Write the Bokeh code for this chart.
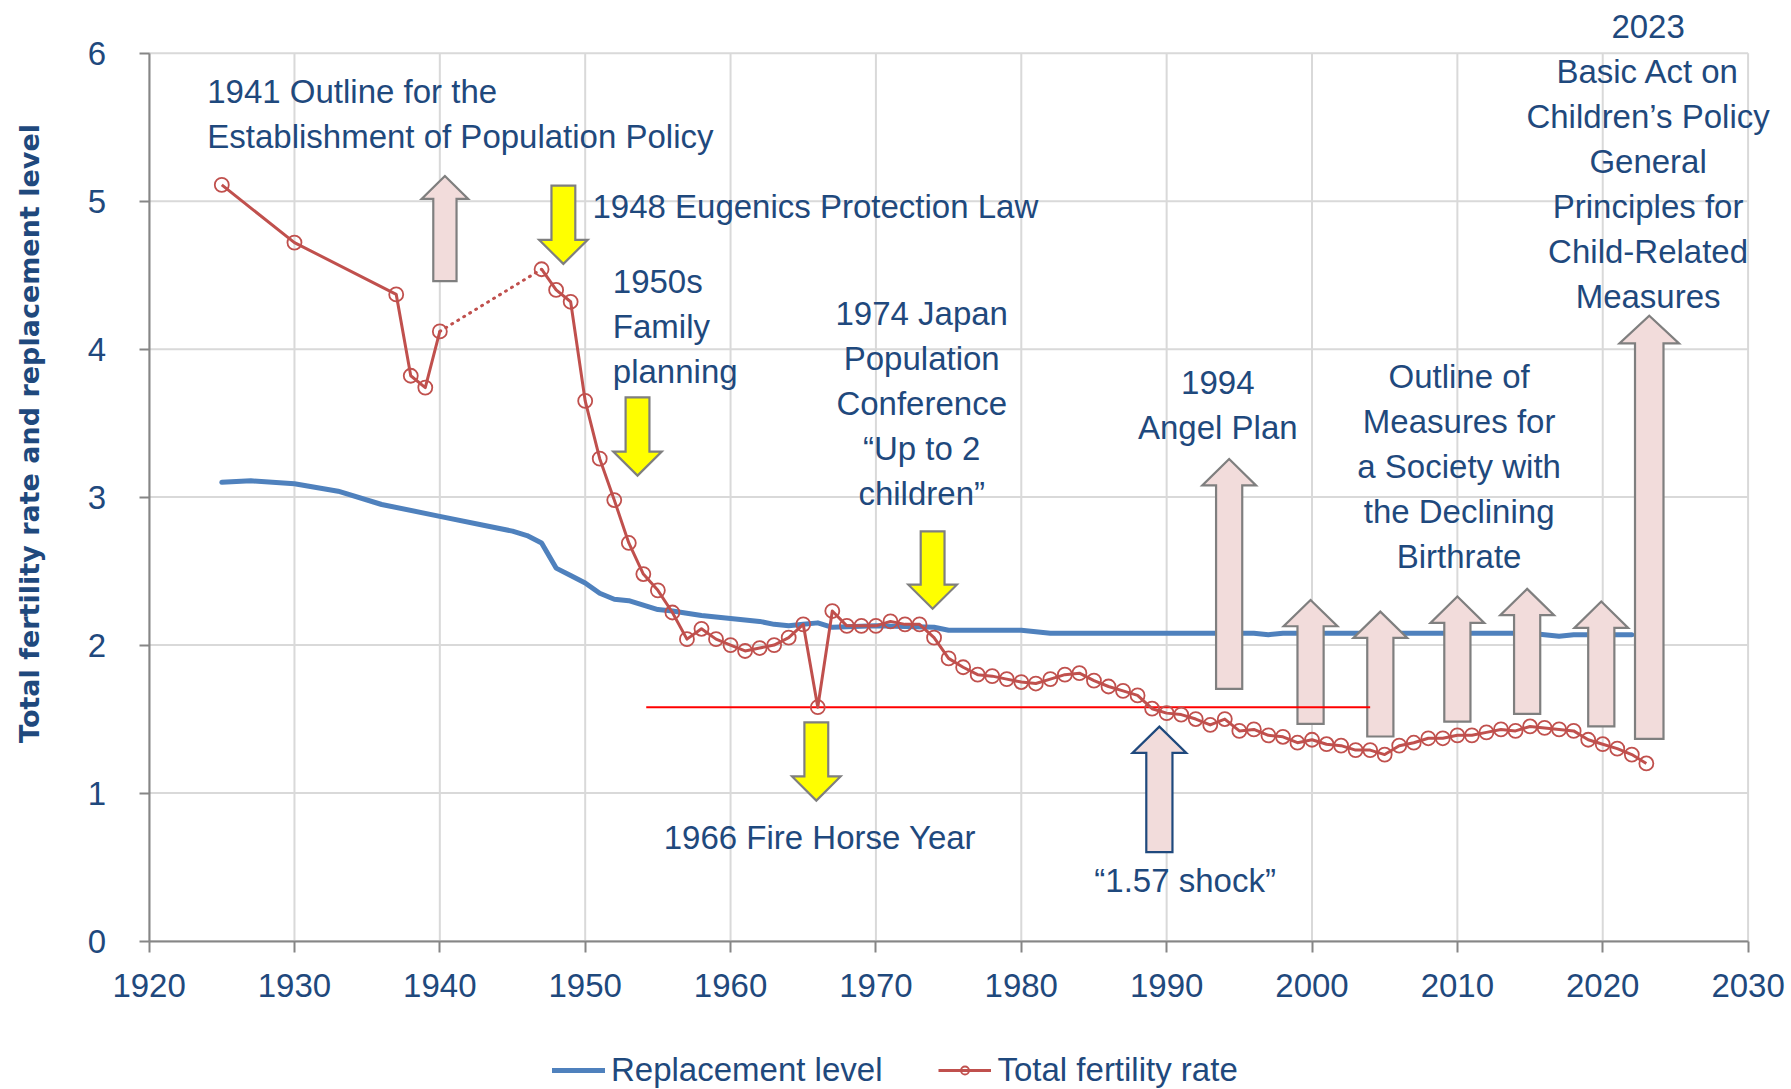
import math
from bokeh.plotting import figure
from bokeh.models import Range1d, FixedTicker, Label, Legend, LegendItem
from bokeh.embed import file_html
from bokeh.resources import INLINE

# ---------------- data ----------------
tfr_years = [1925, 1930, 1937, 1938, 1939, 1940,
             1947, 1948, 1949, 1950, 1951, 1952, 1953, 1954, 1955, 1956, 1957, 1958, 1959,
             1960, 1961, 1962, 1963, 1964, 1965, 1966, 1967, 1968, 1969,
             1970, 1971, 1972, 1973, 1974, 1975, 1976, 1977, 1978, 1979,
             1980, 1981, 1982, 1983, 1984, 1985, 1986, 1987, 1988, 1989,
             1990, 1991, 1992, 1993, 1994, 1995, 1996, 1997, 1998, 1999,
             2000, 2001, 2002, 2003, 2004, 2005, 2006, 2007, 2008, 2009,
             2010, 2011, 2012, 2013, 2014, 2015, 2016, 2017, 2018, 2019,
             2020, 2021, 2022, 2023]
tfr_values = [5.11, 4.72, 4.37, 3.82, 3.74, 4.12,
              4.54, 4.40, 4.32, 3.65, 3.26, 2.98, 2.69, 2.48, 2.37, 2.22, 2.04, 2.11, 2.04,
              2.00, 1.96, 1.98, 2.00, 2.05, 2.14, 1.58, 2.23, 2.13, 2.13,
              2.13, 2.16, 2.14, 2.14, 2.05, 1.91, 1.85, 1.80, 1.79, 1.77,
              1.75, 1.74, 1.77, 1.80, 1.81, 1.76, 1.72, 1.69, 1.66, 1.57,
              1.54, 1.53, 1.50, 1.46, 1.50, 1.42, 1.43, 1.39, 1.38, 1.34,
              1.36, 1.33, 1.32, 1.29, 1.29, 1.26, 1.32, 1.34, 1.37, 1.37,
              1.39, 1.39, 1.41, 1.43, 1.42, 1.45, 1.44, 1.43, 1.42, 1.36,
              1.33, 1.30, 1.26, 1.20]

repl_years = [1925, 1927, 1930, 1933, 1936, 1940, 1943, 1945, 1946, 1947, 1948, 1949,
              1950, 1951, 1952, 1953, 1954, 1955, 1956, 1958, 1960, 1962, 1963, 1964,
              1965, 1966, 1967, 1970, 1974, 1975, 1980, 1982, 1990, 1996, 1997, 1998,
              2005, 2010, 2015, 2016, 2017, 2018, 2020, 2022]
repl_values = [3.10, 3.11, 3.09, 3.04, 2.95, 2.87, 2.81, 2.77, 2.74, 2.69, 2.52, 2.47,
               2.42, 2.35, 2.31, 2.30, 2.27, 2.24, 2.23, 2.20, 2.18, 2.16, 2.14, 2.13,
               2.14, 2.15, 2.12, 2.13, 2.12, 2.10, 2.10, 2.08, 2.08, 2.08, 2.07, 2.08,
               2.08, 2.08, 2.08, 2.07, 2.06, 2.07, 2.07, 2.07]

shock_level = 1.58
shock_years = [1954.2, 2004.0]

x_ticks = [1920, 1930, 1940, 1950, 1960, 1970, 1980, 1990, 2000, 2010, 2020, 2030]
y_ticks = [0, 1, 2, 3, 4, 5, 6]

# block arrows: (center year, tail value, tip value, kind)
arrows = [
    (1940.35, 4.46, 5.17, "pink"),
    (1948.5, 5.105, 4.576, "yellow"),
    (1953.6, 3.674, 3.145, "yellow"),
    (1965.9, 1.478, 0.949, "yellow"),
    (1973.9, 2.769, 2.245, "yellow"),
    (1989.5, 0.60, 1.449, "navy"),
    (1994.3, 1.704, 3.257, "pink"),
    (1999.9, 1.468, 2.305, "pink"),
    (2004.7, 1.382, 2.226, "pink"),
    (2010.0, 1.483, 2.328, "pink"),
    (2014.8, 1.535, 2.380, "pink"),
    (2019.9, 1.451, 2.294, "pink"),
    (2023.2, 1.366, 4.226, "big"),
]

# text blocks: (x year, first baseline value, align, lines)
notes = [
    (1924.0, 5.657, "left", ["1941 Outline for the", "Establishment of Population Policy"]),
    (1950.5, 4.880, "left", ["1948 Eugenics Protection Law"]),
    (1951.9, 4.373, "left", ["1950s", "Family", "planning"]),
    (1973.15, 4.159, "center", ["1974 Japan", "Population", "Conference", "\u201cUp to 2", "children\u201d"]),
    (1993.52, 3.691, "center", ["1994", "Angel Plan"]),
    (2010.12, 3.731, "center", ["Outline of", "Measures for", "a Society with", "the Declining", "Birthrate"]),
    (2023.12, 6.100, "center", ["2023", "Basic Act on", "Children\u2019s Policy", "General",
                               "Principles for", "Child-Related", "Measures"]),
    (1966.15, 0.616, "center", ["1966 Fire Horse Year"]),
    (1991.27, 0.330, "center", ["\u201c1.57 shock\u201d"]),
]
y_title = "Total fertility rate and replacement level"

# ---------------- layout (pixels of the 1791x1089 canvas) ----------------
W, H = 1791, 1089
AX_LEFT, AX_RIGHT = 148.6, 1747.6     # where 1920 and 2030 fall
AX_TOP, AX_BOTTOM = 52.7, 940.5       # where 6 and 0 fall
ppx = (AX_RIGHT - AX_LEFT) / (x_ticks[-1] - x_ticks[0])
ppy = (AX_BOTTOM - AX_TOP) / (y_ticks[-1] - y_ticks[0])
x_range = Range1d(x_ticks[0] - AX_LEFT / ppx, x_ticks[0] + (W - AX_LEFT) / ppx)
y_range = Range1d(y_ticks[0] - (H - AX_BOTTOM) / ppy, y_ticks[0] + AX_BOTTOM / ppy)

# ---------------- styles ----------------
NAVY = "#1F497D"
RED = "#C0504D"
BLUE = "#4F81BD"
FONT = "Liberation Sans"
FS = "33px"
LINE_GAP = 45      # px between note lines
TEXT_SHIFT = 12    # px baseline correction

p = figure(width=W, height=H, output_backend="svg", toolbar_location=None,
           x_range=x_range, y_range=y_range,
           min_border_left=0, min_border_right=0, min_border_top=0, min_border_bottom=0)
p.outline_line_color = None
p.background_fill_color = "white"
p.border_fill_color = "white"
p.grid.visible = False

for ax in (p.xaxis, p.yaxis):
    ax.axis_line_color = "#868686"
    ax.axis_line_width = 2
    ax.major_tick_line_color = "#868686"
    ax.major_tick_line_width = 2
    ax.major_tick_in = 0
    ax.minor_tick_line_color = None
    ax.major_label_text_color = NAVY
    ax.major_label_text_font = FONT
    ax.major_label_text_font_size = FS
p.xaxis.ticker = FixedTicker(ticks=x_ticks)
p.yaxis.ticker = FixedTicker(ticks=y_ticks)
p.xaxis.bounds = (x_ticks[0], x_ticks[-1])
p.yaxis.bounds = (y_ticks[0], y_ticks[-1])
p.xaxis.fixed_location = y_ticks[0]
p.yaxis.fixed_location = x_ticks[0]
p.xaxis.major_tick_out = 11
p.yaxis.major_tick_out = 10
p.xaxis.major_label_standoff = 22
p.yaxis.major_label_standoff = 33

# grid lines
p.segment(x0=x_ticks, x1=x_ticks, y0=[y_ticks[0]] * len(x_ticks), y1=[y_ticks[-1]] * len(x_ticks),
          line_color="#D9D9D9", line_width=2)
p.segment(x0=[x_ticks[0]] * len(y_ticks), x1=[x_ticks[-1]] * len(y_ticks), y0=y_ticks, y1=y_ticks,
          line_color="#D9D9D9", line_width=2)

# replacement level
blue_r = p.line(repl_years, repl_values, line_color=BLUE, line_width=5, line_join="round", line_cap="round")

# block arrows
fills = {"pink": "#F2DCDB", "yellow": "#FFFF00", "navy": "#F2DCDB", "big": "#F2DCDB"}
edges = {"pink": "#7F7F7F", "yellow": "#7F7F7F", "navy": "#1F497D", "big": "#7F7F7F"}
xs, ys, fc, lc = [], [], [], []
for (x, tail, tip, kind) in arrows:
    sw, hw, hl = (0.98, 2.05, 0.187) if kind == "big" else (0.9, 1.85, 0.178)
    if kind == "yellow":
        sw, hw, hl = 0.82, 1.67, 0.163
    if x < 1945:
        sw, hw, hl = 0.80, 1.6, 0.155
    d = 1 if tip > tail else -1
    base = tip - d * hl
    xs.append([x - sw, x - sw, x - hw, x, x + hw, x + sw, x + sw])
    ys.append([tail, base, base, tip, base, base, tail])
    fc.append(fills[kind])
    lc.append(edges[kind])
p.patches(xs, ys, fill_color=fc, line_color=lc, line_width=2.2, line_join="miter")

# 1.57 reference line
p.line(shock_years, [shock_level, shock_level], line_color="#FF0000", line_width=2)

# total fertility rate
pre_x = [y for y in tfr_years if y <= 1940]
pre_y = [v for y, v in zip(tfr_years, tfr_values) if y <= 1940]
gap_x = [y for y in tfr_years if 1940 <= y <= 1947]
gap_y = [v for y, v in zip(tfr_years, tfr_values) if 1940 <= y <= 1947]
post_x = [y for y in tfr_years if y >= 1947]
post_y = [v for y, v in zip(tfr_years, tfr_values) if y >= 1947]
red_r = p.line(pre_x, pre_y, line_color=RED, line_width=3, line_join="round")
p.line(gap_x, gap_y, line_color=RED, line_width=3, line_dash="1 6", line_cap="round")
p.line(post_x, post_y, line_color=RED, line_width=3, line_join="round")
circ_r = p.scatter(tfr_years, tfr_values, marker="circle", size=14, fill_color=None,
                   line_color=RED, line_width=1.8)

# annotation texts
for (x, y0, align, lines) in notes:
    for i, t in enumerate(lines):
        p.add_layout(Label(x=x, y=y0, y_offset=TEXT_SHIFT - LINE_GAP * i, text=t, text_align=align,
                           text_baseline="alphabetic", text_font=FONT, text_font_size=FS,
                           text_color=NAVY))

# vertical axis title
p.add_layout(Label(x=x_ticks[0] - (AX_LEFT - 28.5) / ppx, y=y_ticks[0] + (AX_BOTTOM - 433) / ppy,
                   angle=math.pi / 2, text=y_title, text_align="center", text_baseline="middle",
                   text_font="DejaVu Sans", text_font_style="bold", text_font_size="27px",
                   text_color=NAVY))

legend = Legend(items=[LegendItem(label="Replacement level", renderers=[blue_r]),
                       LegendItem(label="Total fertility rate", renderers=[red_r, circ_r])],
                location=(552, 0), orientation="horizontal", spacing=56,
                glyph_width=53, glyph_height=20, label_standoff=6, padding=0, margin=0,
                border_line_color=None, background_fill_alpha=0,
                label_text_font=FONT, label_text_font_size=FS, label_text_color=NAVY)
p.add_layout(legend, "center")

open("out.html", "w", encoding="utf-8").write(file_html(p, INLINE))
